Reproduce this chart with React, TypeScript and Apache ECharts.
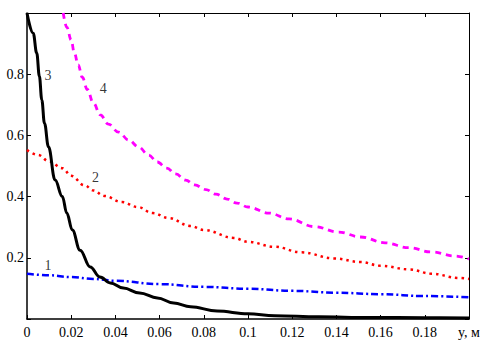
import React, { useEffect, useRef } from "react";
import * as echarts from "echarts";

const xLastLabel = "y, м";

const c1X = [0, 0.01, 0.02, 0.03, 0.04, 0.06, 0.08, 0.1, 0.12, 0.14, 0.16, 0.18, 0.2];
const c1Y = [0.148, 0.143, 0.137, 0.131, 0.125, 0.114, 0.105, 0.099, 0.092, 0.086, 0.081, 0.075, 0.071];

const c2X = [0, 0.005, 0.01, 0.016, 0.02, 0.026, 0.03, 0.035, 0.043, 0.05, 0.057, 0.064, 0.074, 0.08, 0.0936, 0.1, 0.112, 0.124, 0.139, 0.151, 0.16, 0.173, 0.183, 0.1955, 0.2];
const c2Y = [0.552, 0.536, 0.515, 0.493, 0.468, 0.437, 0.42, 0.402, 0.382, 0.366, 0.346, 0.33, 0.304, 0.291, 0.265, 0.252, 0.236, 0.218, 0.198, 0.186, 0.174, 0.162, 0.148, 0.134, 0.131];

const c3X = [0, 0.0028, 0.0044, 0.0056, 0.0067, 0.0079, 0.0097, 0.0127, 0.016, 0.018, 0.0205, 0.024, 0.0286, 0.033, 0.0377, 0.0436, 0.051, 0.059, 0.0664, 0.074, 0.086, 0.1, 0.112, 0.132, 0.155, 0.18, 0.2];
const c3Y = [1.0, 0.934, 0.869, 0.793, 0.716, 0.64, 0.563, 0.454, 0.4, 0.346, 0.291, 0.225, 0.17, 0.137, 0.118, 0.101, 0.085, 0.069, 0.052, 0.04, 0.026, 0.017, 0.011, 0.007, 0.005, 0.004, 0.003];

const c4X = [0.0164, 0.018, 0.02, 0.0214, 0.0232, 0.025, 0.0273, 0.03, 0.0332, 0.0368, 0.0414, 0.046, 0.0505, 0.055, 0.059, 0.0632, 0.0673, 0.0718, 0.0759, 0.081, 0.0855, 0.0905, 0.095, 0.1, 0.1095, 0.1186, 0.13, 0.141, 0.151, 0.162, 0.1727, 0.183, 0.1936, 0.2];
const c4Y = [1.0, 0.954, 0.912, 0.87, 0.83, 0.79, 0.75, 0.706, 0.667, 0.637, 0.611, 0.585, 0.562, 0.536, 0.513, 0.493, 0.474, 0.454, 0.438, 0.423, 0.408, 0.392, 0.379, 0.366, 0.346, 0.327, 0.302, 0.284, 0.268, 0.249, 0.233, 0.219, 0.206, 0.196];

const curveNames = ["1", "2", "3", "4"];
const curveLabelX = [0.0095, 0.031, 0.0095, 0.0345];
const curveLabelY = [0.176, 0.464, 0.797, 0.752];

const zip = (xs: number[], ys: number[]) => xs.map((x, i) => [x, ys[i]]);

export default function App() {
  const ref = useRef<HTMLDivElement>(null);
  useEffect(() => {
    if (!ref.current) return;
    const chart = echarts.init(ref.current, undefined, { renderer: "svg" });
    const font = "'Liberation Serif', 'Times New Roman', serif";
    const fmt = (v: number) => {
      const r = Math.round(v * 1000) / 1000;
      if (Math.abs(r - 0.2) < 1e-9) return xLastLabel;
      return String(r);
    };
    const lineBase = { type: "line", showSymbol: false, symbol: "none", smooth: 0.4, smoothMonotone: "x", z: 3 } as any;
    const axLine = (w: number) => ({ show: true, onZero: false, lineStyle: { color: "#000", width: w } });
    const tick = { show: true, inside: true, length: 4, lineStyle: { color: "#000" } };
    chart.setOption({
      animation: false,
      backgroundColor: "#ffffff",
      grid: { left: 27, right: 20, top: 13, bottom: 43, containLabel: false },
      xAxis: [
        {
          type: "value", min: 0, max: 0.2, interval: 0.02, position: "bottom",
          axisLine: axLine(1.5), axisTick: tick,
          axisLabel: { color: "#000", fontFamily: font, fontSize: 14, margin: 6, formatter: fmt, showMaxLabel: true, showMinLabel: true },
          splitLine: { show: false },
        },
        {
          type: "value", min: 0, max: 0.2, interval: 0.02, position: "top",
          axisLine: axLine(1), axisTick: tick, axisLabel: { show: false }, splitLine: { show: false },
        },
      ],
      yAxis: [
        {
          type: "value", min: 0, max: 1, interval: 0.2, position: "left",
          axisLine: axLine(1.5), axisTick: tick,
          axisLabel: {
            color: "#000", fontFamily: font, fontSize: 14, margin: 3,
            formatter: (v: number) => (v <= 0 || v >= 1 ? "" : String(Math.round(v * 10) / 10)),
          },
          splitLine: { show: false },
        },
        {
          type: "value", min: 0, max: 1, interval: 0.2, position: "right",
          axisLine: axLine(1), axisTick: tick, axisLabel: { show: false }, splitLine: { show: false },
        },
      ],
      series: [
        { ...lineBase, name: "1", data: zip(c1X, c1Y), lineStyle: { color: "#0000ff", width: 2.5, type: [7, 3, 2, 3] } },
        { ...lineBase, name: "2", data: zip(c2X, c2Y), lineStyle: { color: "#ff0000", width: 2.5, type: [2.5, 4] } },
        { ...lineBase, name: "3", data: zip(c3X, c3Y), lineStyle: { color: "#000000", width: 3, type: "solid" } },
        { ...lineBase, name: "4", data: zip(c4X, c4Y), lineStyle: { color: "#ff00ff", width: 2.8, type: [6, 5] } },
        {
          type: "scatter", name: "labels", symbolSize: 0, z: 5, silent: true,
          data: curveNames.map((n, i) => ({ value: [curveLabelX[i], curveLabelY[i]], name: n })),
          label: { show: true, position: "inside", formatter: (p: any) => p.name, color: "#000", fontFamily: font, fontSize: 14 },
        },
      ],
    });
    return () => chart.dispose();
  }, []);
  return <div ref={ref} style={{ position: "fixed", left: 0, top: 0, width: 489, height: 362, background: "#fff" }} />;
}
